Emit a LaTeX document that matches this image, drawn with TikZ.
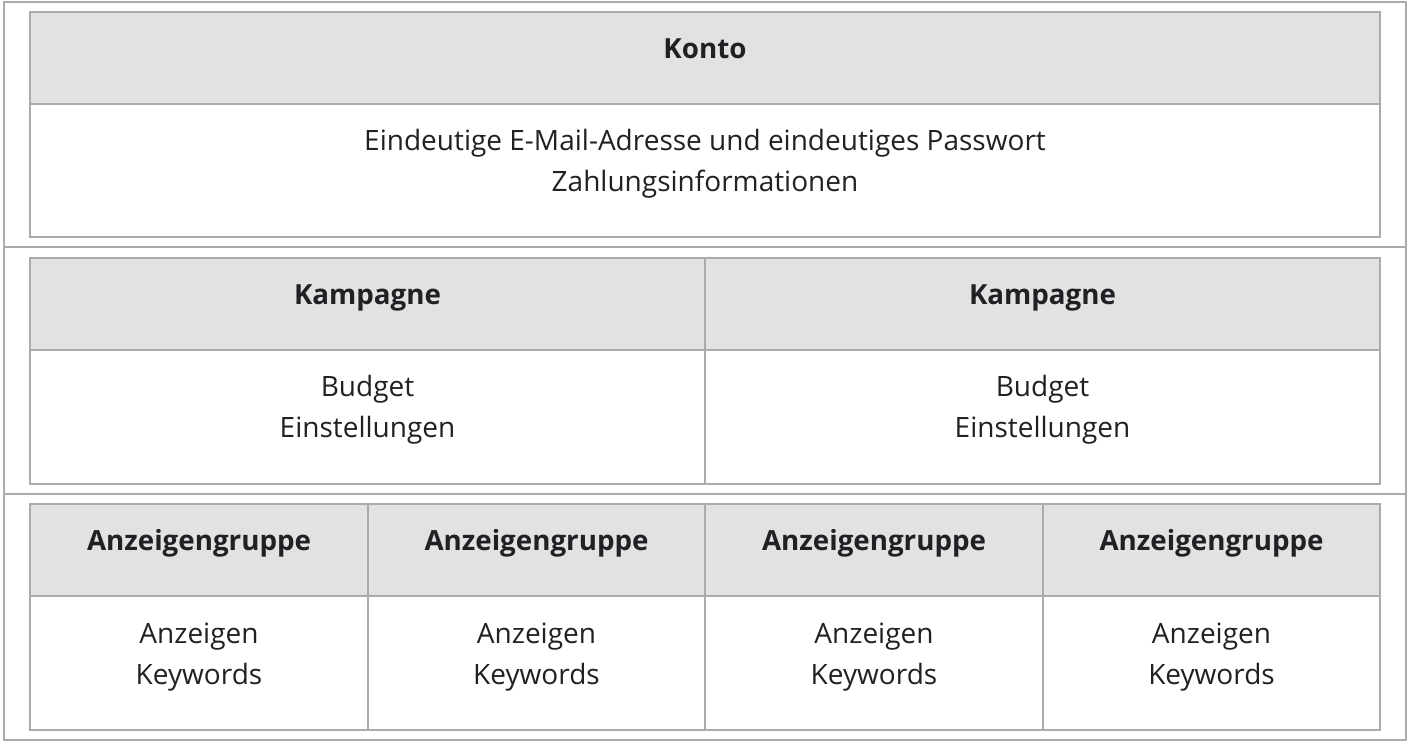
\documentclass[tikz,border=0pt]{standalone}
\usepackage{fontspec}
\setmainfont{Open Sans}
\definecolor{gridline}{HTML}{ABABAB}
\definecolor{headfill}{HTML}{E2E2E2}
\definecolor{txt}{HTML}{202124}
\tikzset{
  x=0.75pt, y=-0.75pt,
  frame/.style={draw=gridline, line width=1.5pt},
  headcell/.style={draw=gridline, fill=headfill, line width=1.5pt},
  bodycell/.style={draw=gridline, fill=white, line width=1.5pt},
  headtext/.style={anchor=base, inner sep=0pt, text=txt, font=\fontsize{20.8}{24}\selectfont\bfseries},
  bodytext/.style={anchor=base, inner sep=0pt, text=txt, font=\fontsize{21}{25}\selectfont},
}
\begin{document}
\begin{tikzpicture}
\fill[white] (0,0) rectangle (1411,755);
\useasboundingbox (0,0) rectangle (1411,755);
% outer frame and section dividers
\draw[frame] (4,2) rectangle (1405.5,740);
\draw[frame] (4,247.5) -- (1405.5,247.5);
\draw[frame] (4,493.7) -- (1405.5,493.7);
% section 1: Konto
\draw[headcell] (30,12) rectangle (1380,104);
\draw[bodycell] (30,104) rectangle (1380,237.5);
\node[headtext] (konto) at (705,59) {Konto};
\node[bodytext] (k1) at (705,151) {Eindeutige E-Mail-Adresse und eindeutiges Passwort};
\node[bodytext] (k2) at (705,192) {Zahlungsinformationen};
% section 2: Kampagnen
\foreach \xa/\xb/\n in {30/705/a, 705/1380/b}{
  \draw[headcell] (\xa,258) rectangle (\xb,350);
  \draw[bodycell] (\xa,350) rectangle (\xb,484);
  \node[headtext] (kamp\n) at ({(\xa+\xb)/2},305) {Kampagne};
  \node[bodytext] (budget\n) at ({(\xa+\xb)/2},397) {Budget};
  \node[bodytext] (einst\n) at ({(\xa+\xb)/2},438) {Einstellungen};
}
% section 3: Anzeigengruppen
\foreach \xa/\xb/\n in {30/368/a, 368/705/b, 705/1043/c, 1043/1380/d}{
  \draw[headcell] (\xa,504) rectangle (\xb,596);
  \draw[bodycell] (\xa,596) rectangle (\xb,730);
  \node[headtext] (grp\n) at ({(\xa+\xb)/2},551) {Anzeigengruppe};
  \node[bodytext] (anz\n) at ({(\xa+\xb)/2},643) {Anzeigen};
  \node[bodytext] (kw\n) at ({(\xa+\xb)/2},684) {Keywords};
}
\end{tikzpicture}
\end{document}
